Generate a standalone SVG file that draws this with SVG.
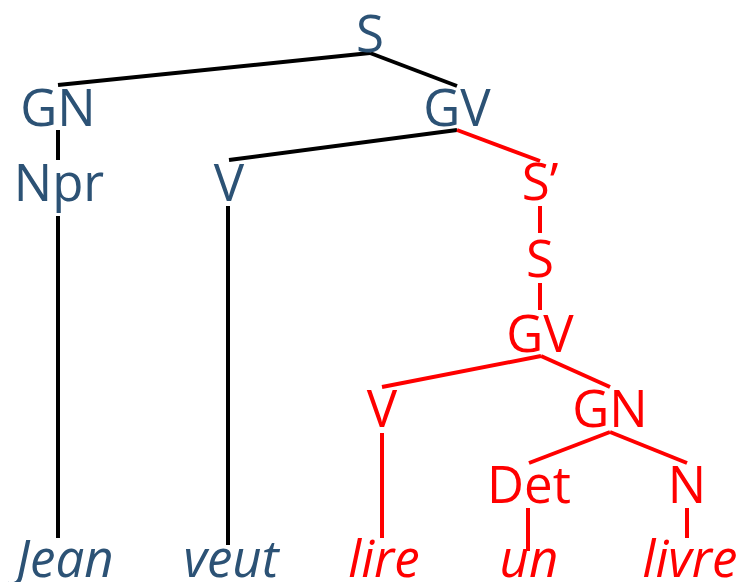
<svg xmlns="http://www.w3.org/2000/svg" width="737" height="582" viewBox="0 0 737 582">
<style>
.t{font-family:"Open Sans","DejaVu Sans",sans-serif;font-size:51px;text-anchor:middle}
.w{font-style:italic}
.b{fill:#2c5275}
.r{fill:#ff0000}
.e{stroke-width:4;fill:none;stroke-linecap:butt}
.k{stroke:#000}
.rr{stroke:#ff0000}
</style>
<rect width="737" height="582" fill="#fff"/>
<g id="connectors" class="e">
<g class="k">
<line x1="370" y1="53" x2="58" y2="85"/>
<line x1="370" y1="53" x2="457" y2="86"/>
<line x1="58" y1="130" x2="58" y2="160"/>
<line x1="58" y1="216" x2="58" y2="538"/>
<line x1="457" y1="130" x2="229" y2="160"/>
<line x1="228" y1="206" x2="228" y2="545"/>
</g>
<g class="rr">
<line x1="457" y1="130" x2="540" y2="161"/>
<line x1="540" y1="206" x2="540" y2="233"/>
<line x1="540" y1="283" x2="540" y2="310"/>
<line x1="541" y1="356" x2="382" y2="387"/>
<line x1="541" y1="356" x2="610" y2="387"/>
<line x1="382" y1="433" x2="382" y2="538"/>
<line x1="610" y1="432" x2="529" y2="463"/>
<line x1="610" y1="432" x2="687" y2="463"/>
<line x1="528" y1="508" x2="528" y2="551"/>
<line x1="687" y1="508" x2="687" y2="538"/>
</g>
</g>
<g id="S"><text class="t b" x="370" y="52">S</text></g>
<g id="GN"><text class="t b" x="58" y="126">GN</text></g>
<g id="GV"><text class="t b" x="457" y="126">GV</text></g>
<g id="Npr"><text class="t b" x="59" y="201">Npr</text></g>
<g id="V"><text class="t b" x="229" y="201">V</text></g>
<g id="Sprime"><text class="t r" x="540" y="200">S’</text></g>
<g id="S2"><text class="t r" x="540" y="277">S</text></g>
<g id="GV2"><text class="t r" x="540" y="352">GV</text></g>
<g id="V2"><text class="t r" x="382" y="427">V</text></g>
<g id="GN2"><text class="t r" x="610" y="427">GN</text></g>
<g id="Det"><text class="t r" x="529" y="503">Det</text></g>
<g id="N"><text class="t r" x="687" y="503">N</text></g>
<g id="Jean"><text class="t b w" x="65" y="577">Jean</text></g>
<g id="veut"><text class="t b w" x="231" y="577">veut</text></g>
<g id="lire"><text class="t r w" x="384" y="577">lire</text></g>
<g id="un"><text class="t r w" x="529" y="577">un</text></g>
<g id="livre"><text class="t r w" x="690" y="577">livre</text></g>
</svg>
